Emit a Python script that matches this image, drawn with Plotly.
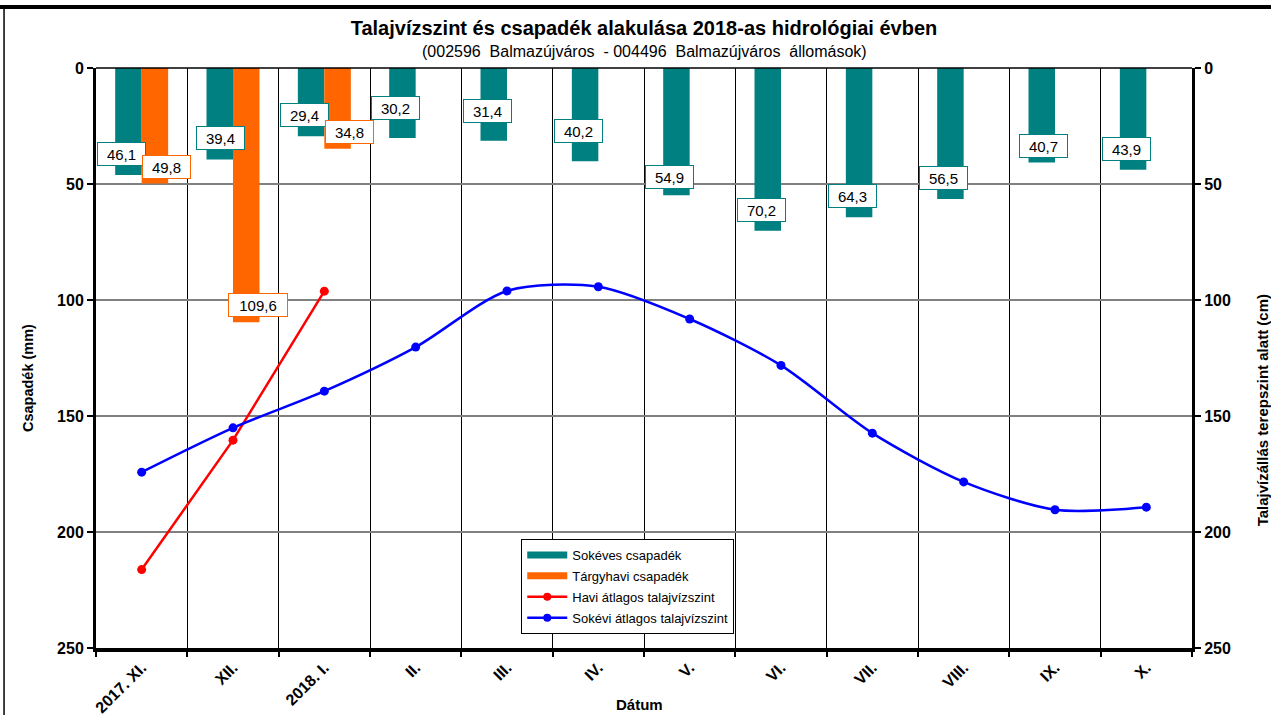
import plotly.graph_objects as go

months = ["2017. XI.", "XII.", "2018. I.", "II.", "III.", "IV.", "V.", "VI.",
          "VII.", "VIII.", "IX.", "X."]
sokeves_csapadek = [46.1, 39.4, 29.4, 30.2, 31.4, 40.2, 54.9, 70.2, 64.3, 56.5, 40.7, 43.9]
targyhavi_csapadek = [49.8, 109.6, 34.8, None, None, None, None, None, None, None, None, None]
havi_talajviz = [216.2, 160.4, 96.2, None, None, None, None, None, None, None, None, None]
sokevi_talajviz = [174.2, 155.1, 139.3, 120.3, 96.1, 94.3, 108.2, 128.2, 157.4, 178.4, 190.4, 189.3]
y_ticks = [0, 50, 100, 150, 200, 250]

TEAL = "#008080"
ORANGE = "#FF6600"
RED = "#FF0000"
BLUE = "#0000FF"
FONT = "Arial, Liberation Sans, sans-serif"

# small manual pixel nudges of individual data labels (as placed in the original)
label_nudge = {"XII.": (7, 0), "II.": (0, 9), "III.": (0, 9), "IV.": (0, 9),
               "V.": (0, -3), "IX.": (8, -5)}

fig = go.Figure()
fig.add_trace(go.Bar(x=months, y=sokeves_csapadek, name="Sokéves csapadék",
                     marker=dict(color=TEAL, line=dict(width=0)), yaxis="y",
                     showlegend=False))
fig.add_trace(go.Bar(x=months, y=targyhavi_csapadek, name="Tárgyhavi csapadék",
                     marker=dict(color=ORANGE, line=dict(width=0)), yaxis="y",
                     showlegend=False))
fig.add_trace(go.Scatter(x=months, y=havi_talajviz, name="Havi átlagos talajvízszint",
                         mode="lines+markers", line=dict(color=RED, width=2.5),
                         marker=dict(color=RED, size=9), yaxis="y2", showlegend=False))
fig.add_trace(go.Scatter(x=months, y=sokevi_talajviz, name="Sokévi átlagos talajvízszint",
                         mode="lines+markers",
                         line=dict(color=BLUE, width=2.5, shape="spline", smoothing=0.8),
                         marker=dict(color=BLUE, size=9), yaxis="y2", showlegend=False))

# legend entries (Excel-style wide bar symbols)
legend_items = [
    ("Sokéves csapadék", TEAL, "lines", 7),
    ("Tárgyhavi csapadék", ORANGE, "lines", 7),
    ("Havi átlagos talajvízszint", RED, "lines+markers", 2.5),
    ("Sokévi átlagos talajvízszint", BLUE, "lines+markers", 2.5),
]
for i, (nm, col, md, lw) in enumerate(legend_items):
    fig.add_trace(go.Scatter(x=[None], y=[None], name=nm, mode=md,
                             line=dict(color=col, width=lw),
                             marker=dict(color=col, size=8),
                             legendgroup=f"g{i}", showlegend=True))


def fmt(v):
    return f"{v:.1f}".replace(".", ",")


annotations = []
for m, v in zip(months, sokeves_csapadek):
    t = fmt(v)
    dx, dy = label_nudge.get(m, (0, 0))
    annotations.append(dict(x=m, y=v, xref="x", yref="y", text=t, showarrow=False,
                            xshift=-20 + dx, yshift=21 + dy, bgcolor="white",
                            bordercolor=TEAL, borderwidth=1, borderpad=1.5,
                            width=11 * len(t), height=19,
                            font=dict(family=FONT, size=15, color="black")))
for m, v in zip(months, targyhavi_csapadek):
    if v is None:
        continue
    t = fmt(v)
    annotations.append(dict(x=m, y=v, xref="x", yref="y", text=t, showarrow=False,
                            xshift=25, yshift=17, bgcolor="white", bordercolor=ORANGE,
                            borderwidth=1, borderpad=1.5, width=11 * len(t), height=19,
                            font=dict(family=FONT, size=15, color="black")))

# subtitle and axis titles
annotations.append(dict(x=0.5, y=(648 - 51) / 580, xref="paper", yref="paper", showarrow=False,
                        xanchor="center", yanchor="middle",
                        text="(002596\u00a0\u00a0Balmazújváros\u00a0\u00a0-\u00a0004496\u00a0\u00a0Balmazújváros\u00a0\u00a0állomások)",
                        font=dict(family=FONT, size=16, color="black")))
annotations.append(dict(x=0.496, y=-0.0975, xref="paper", yref="paper", showarrow=False,
                        xanchor="center", yanchor="middle",
                        text="<b>Dátum</b>", font=dict(family=FONT, size=15, color="black")))
annotations.append(dict(x=-0.062, y=0.4655, xref="paper", yref="paper", showarrow=False,
                        xanchor="center", yanchor="middle",
                        text="<b>Csapadék (mm)</b>", textangle=-90,
                        font=dict(family=FONT, size=14.5, color="black")))
annotations.append(dict(x=1.064, y=0.41, xref="paper", yref="paper", showarrow=False,
                        xanchor="center", yanchor="middle",
                        text="<b>Talajvízállás terepszint alatt (cm)</b>", textangle=-90,
                        font=dict(family=FONT, size=15, color="black")))

shapes = [
    dict(type="line", xref="paper", yref="paper", x0=0, x1=1, y0=1, y1=1,
         line=dict(color="black", width=1.5)),
    dict(type="line", xref="paper", yref="paper", x0=-0.1, x1=1.1, y0=1.105, y1=1.105,
         line=dict(color="black", width=4)),
    dict(type="line", xref="paper", yref="paper", x0=-0.0839, x1=-0.0839, y0=-0.2, y1=1.105,
         line=dict(color="black", width=1.5)),
]

axis_font = dict(family=FONT, size=16, color="black", weight="bold")

fig.update_layout(
    width=1271, height=715,
    margin=dict(l=96, r=79, t=68, b=67, autoexpand=False),
    paper_bgcolor="white", plot_bgcolor="white",
    barmode="group", bargap=0.42, bargroupgap=0,
    font=dict(family=FONT, color="black"),
    title=dict(text="<b>Talajvízszint és csapadék alakulása 2018-as hidrológiai évben</b>",
               x=0.5, xref="paper", y=1 - 28 / 715, yanchor="middle", xanchor="center",
               font=dict(family=FONT, size=20, color="black")),
    xaxis=dict(type="category", range=[-0.5, 11.5], tickson="boundaries", showgrid=True,
               gridcolor="black", gridwidth=1, ticks="outside", ticklen=5, tickwidth=2,
               tickcolor="black", tickangle=-45,
               tickfont=dict(family=FONT, size=16, color="black", weight="bold"),
               showline=True, linecolor="black", linewidth=4, zeroline=False),
    yaxis=dict(range=[250, 0], tickvals=y_ticks, showgrid=True, gridcolor="#808080",
               gridwidth=1.5, ticks="outside", ticklen=6, tickwidth=2, tickcolor="black",
               tickfont=axis_font, showline=True, linecolor="black", linewidth=3,
               zeroline=False),
    yaxis2=dict(range=[250, 0], tickvals=y_ticks, overlaying="y", side="right",
                showgrid=False, ticks="outside", ticklen=6, tickwidth=2, tickcolor="black",
                tickfont=axis_font, showline=True, linecolor="black", linewidth=3,
                zeroline=False),
    legend=dict(x=0.388, y=(648 - 539) / 580, xanchor="left", yanchor="top", bgcolor="white",
                bordercolor="black", borderwidth=1, traceorder="grouped", tracegroupgap=1,
                font=dict(family=FONT, size=13, color="black"), itemwidth=40),
    annotations=annotations,
    shapes=shapes,
    showlegend=True,
)

fig.write_html("out.html", config={"displayModeBar": False},
               post_script="document.body.style.margin='0';")
